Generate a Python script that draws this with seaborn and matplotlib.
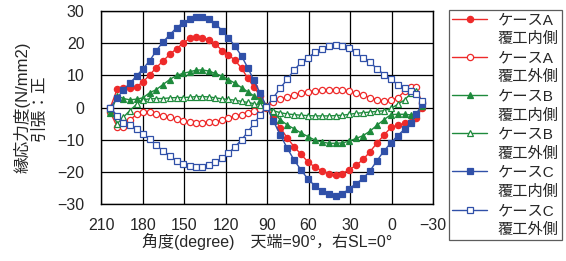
import seaborn as sns
import pandas as pd
import matplotlib.pyplot as plt
from matplotlib.lines import Line2D

# angle positions of the lining elements (degree)
angles = [203.5, 198.5, 194, 189.5, 184.5, 180, 175, 170.5, 165.5, 160.5,
          155.5, 151, 146, 141.5, 137, 132, 127.5, 122.5, 118, 113.5,
          108.5, 104, 99.5, 95, 90.5,
          85.5, 80.5, 75.5, 70.5, 65.5, 60.5, 55.5, 50.5, 45.5, 40.5,
          35.5, 30.5, 25.5, 20.5, 15.5, 10.5, 5.5, 0.5, -4.5, -9.5,
          -14, -18, -22]

a_inner = [0, 5.7, 6.2, 6.2, 6.5, 7.9, 10.1, 12.3, 14.4, 16.5,
           18.3, 19.9, 21.5, 22.0, 21.7, 21.1, 19.7, 17.7, 16.3, 14.8,
           12.2, 9.1, 6.3, 3.6, 0.5,
           -3.0, -6.3, -9.4, -12.2, -14.5, -16.9, -18.5, -19.6, -20.5, -20.9,
           -20.5, -19.3, -17.9, -16.1, -13.7, -11.0, -8.6, -6.2, -5.5, -4.9,
           -4.4, -3.3, 0]
a_outer = [-1.5, -6.0, -6.2, -4.0, -2.1, -1.4, -1.5, -2.0, -2.6, -3.0,
           -3.5, -4.1, -4.6, -4.7, -4.7, -4.6, -4.4, -3.9, -3.2, -2.7,
           -2.2, -1.7, -1.2, -0.5, 0,
           1.8, 2.6, 3.3, 3.9, 4.4, 4.9, 5.2, 5.4, 5.4, 5.4,
           5.3, 5.0, 4.4, 3.8, 3.1, 2.4, 2.0, 2.2, 3.1, 5.0,
           6.3, 6.3, 1.5]
b_inner = [-1.8, 3.6, 2.8, 2.4, 2.6, 3.0, 4.6, 5.5, 7.1, 8.7,
           10.0, 10.6, 11.1, 11.6, 11.7, 11.3, 10.6, 9.7, 8.7, 7.6,
           6.2, 4.9, 3.6, 2.3, 0.5,
           -1.5, -3.8, -5.4, -6.6, -7.9, -9.0, -10.1, -10.7, -11.1, -11.1,
           -11.0, -10.4, -9.6, -8.7, -7.3, -5.5, -3.8, -2.2, -2.1, -2.1,
           -2.3, -2.0, 0.5]
b_outer = [-0.5, -5.0, -3.0, -1.0, 1.0, 2.4, 2.7, 2.8, 2.8, 3.0,
           3.1, 3.1, 3.2, 3.4, 3.4, 3.3, 3.0, 2.7, 2.5, 2.3,
           1.9, 1.6, 1.2, 0.7, 0.2,
           -1.0, -1.6, -2.0, -2.2, -2.4, -2.5, -2.6, -2.6, -2.6, -2.5,
           -2.4, -2.1, -1.8, -1.6, -1.4, -1.2, -1.0, -0.3, 1.0, 2.4,
           4.4, 5.2, 1.5]
c_inner = [0, 3.0, 5.5, 7.5, 9.8, 12.0, 14.5, 17.5, 20.3, 22.6,
           24.8, 26.3, 27.4, 28.0, 28.1, 27.4, 26.0, 23.9, 21.6, 19.2,
           16.0, 12.3, 8.4, 4.4, 0.3,
           -4.2, -8.5, -12.6, -16.3, -19.4, -22.2, -24.3, -26.0, -27.0, -27.4,
           -26.8, -25.2, -23.6, -22.0, -19.6, -16.5, -13.5, -11.0, -8.7, -6.7,
           -4.7, -2.0, 1.0]
c_outer = [0, -2.6, -4.7, -5.3, -6.8, -8.2, -9.7, -11.6, -13.4, -15.0,
           -16.6, -17.6, -18.1, -18.6, -18.6, -18.0, -17.0, -15.8, -14.2, -12.3,
           -10.0, -7.6, -4.9, -2.4, 0.2,
           3.1, 6.0, 8.8, 11.6, 14.0, 15.5, 17.1, 18.3, 19.1, 19.3,
           19.2, 18.4, 17.1, 15.3, 14.0, 12.1, 10.2, 8.8, 7.1, 6.0,
           5.0, 4.3, 2.0]

cases = ['ケースA', 'ケースA', 'ケースB', 'ケースB', 'ケースC', 'ケースC']
sides = ['覆工内側', '覆工外側', '覆工内側', '覆工外側', '覆工内側', '覆工外側']

red = '#ee2a2a'
green = '#1e8a3c'
blue = '#3050a8'

series = [
    (a_inner, red, 'o', True),
    (a_outer, red, 'o', False),
    (b_inner, green, '^', True),
    (b_outer, green, '^', False),
    (c_inner, blue, 's', True),
    (c_outer, blue, 's', False),
]

sns.set_style('white')
plt.rcParams['font.family'] = ['Liberation Sans', 'Noto Sans CJK JP', 'DejaVu Sans']

fig = plt.figure(figsize=(5.66, 2.61), dpi=100)
ax = fig.add_axes([0.179, 0.218, 0.586, 0.740])

for i, (vals, col, mk, filled) in enumerate(series):
    df = pd.DataFrame({'angle': angles, 'stress': vals})
    sns.lineplot(data=df, x='angle', y='stress', ax=ax, sort=False,
                 color=col, marker=mk, markersize=5.5 if mk != 's' else 5,
                 markerfacecolor=col if filled else 'white',
                 markeredgecolor=col, markeredgewidth=0.9,
                 linewidth=1.0, label=cases[i])

ax.set_xlim(210, -30)
ax.set_ylim(-30, 30)
ax.set_xticks([210, 180, 150, 120, 90, 60, 30, 0, -30])
ax.set_yticks([-30, -20, -10, 0, 10, 20, 30])
ax.grid(True, color='black', linewidth=0.9)
for s in ax.spines.values():
    s.set_color('black')
    s.set_linewidth(1.0)
ax.tick_params(labelsize=11.5, length=0)
ax.tick_params(axis='y', pad=12)
ax.tick_params(axis='x', pad=10)

ax.set_xlabel('角度(degree)　天端=90°，右SL=0°', fontsize=11.5, labelpad=0)
ax.set_ylabel('縁応力度(N/mm2)\n引張：正', fontsize=12, labelpad=8,
              linespacing=1.05)

ax.get_legend().remove()
handles, _ = ax.get_legend_handles_labels()
leg_handles = []
leg_labels = []
for h, c, s in zip(handles, cases, sides):
    h.set_markersize(4.5)
    leg_handles += [h, Line2D([], [], linestyle='none')]
    leg_labels += [c, s]

leg = fig.legend(leg_handles, leg_labels, loc='upper left',
                 bbox_to_anchor=(449 / 566, 1 - 10 / 261),
                 fontsize=11, frameon=True, fancybox=False,
                 edgecolor='#333333', handlelength=2.3, handletextpad=0.7,
                 labelspacing=0.33, borderpad=0.2, borderaxespad=0)
leg.get_frame().set_linewidth(0.9)

fig.savefig('out.png', dpi=100)
